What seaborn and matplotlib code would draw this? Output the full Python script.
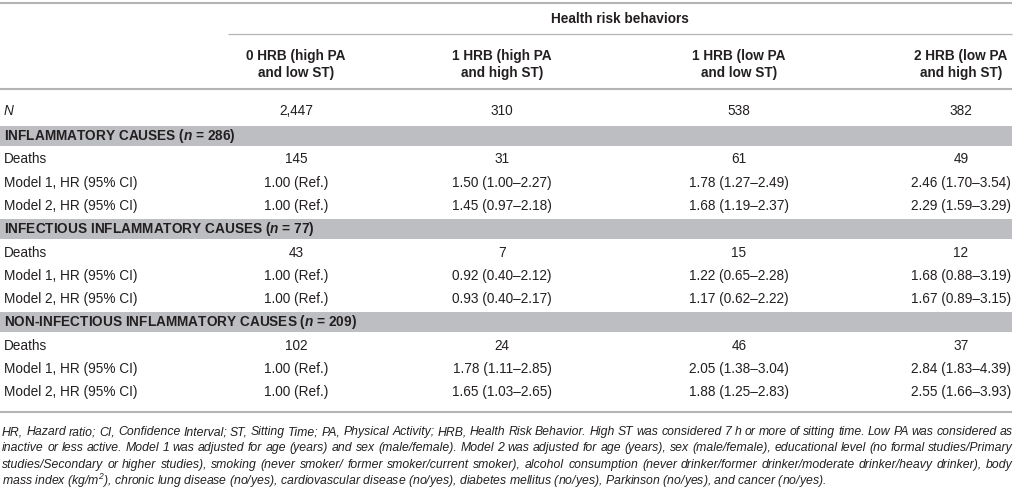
import matplotlib
matplotlib.use("Agg")
import matplotlib.pyplot as plt
import seaborn as sns

# ---------------- data ----------------
group_title = "Health risk behaviors"
columns = [
    "0 HRB (high PA\nand low ST)",
    "1 HRB (high PA\nand high ST)",
    "1 HRB (low PA\nand low ST)",
    "2 HRB (low PA\nand high ST)",
]
n_total = ["2,447", "310", "538", "382"]

sections = ["INFLAMMATORY CAUSES", "INFECTIOUS INFLAMMATORY CAUSES",
            "NON-INFECTIOUS INFLAMMATORY CAUSES"]
section_n = [286, 77, 209]

deaths = [[145, 31, 61, 49],
          [43, 7, 15, 12],
          [102, 24, 46, 37]]

# hazard ratios; first column is the reference group
m1_hr = [[1.00, 1.50, 1.78, 2.46], [1.00, 0.92, 1.22, 1.68], [1.00, 1.78, 2.05, 2.84]]
m1_lo = [[None, 1.00, 1.27, 1.70], [None, 0.40, 0.65, 0.88], [None, 1.11, 1.38, 1.83]]
m1_hi = [[None, 2.27, 2.49, 3.54], [None, 2.12, 2.28, 3.19], [None, 2.85, 3.04, 4.39]]

m2_hr = [[1.00, 1.45, 1.68, 2.29], [1.00, 0.93, 1.17, 1.67], [1.00, 1.65, 1.88, 2.55]]
m2_lo = [[None, 0.97, 1.19, 1.59], [None, 0.40, 0.62, 0.89], [None, 1.03, 1.25, 1.66]]
m2_hi = [[None, 2.18, 2.37, 3.29], [None, 2.17, 2.22, 3.15], [None, 2.65, 2.83, 3.93]]

footnote = [
    "HR, Hazard ratio; CI, Confidence Interval; ST, Sitting Time; PA, Physical Activity; HRB, Health Risk Behavior. High ST was considered 7 h or more of sitting time. Low PA was considered as",
    "inactive or less active. Model 1 was adjusted for age (years) and sex (male/female). Model 2 was adjusted for age (years), sex (male/female), educational level (no formal studies/Primary",
    "studies/Secondary or higher studies), smoking (never smoker/ former smoker/current smoker), alcohol consumption (never drinker/former drinker/moderate drinker/heavy drinker), body",
    "mass index (kg/m$^2$), chronic lung disease (no/yes), cardiovascular disease (no/yes), diabetes mellitus (no/yes), Parkinson (no/yes), and cancer (no/yes).",
]

# ---------------- style ----------------
sns.set_theme(style="white")
plt.rcParams["font.family"] = ["Liberation Sans", "DejaVu Sans"]
plt.rcParams["mathtext.fontset"] = "custom"
plt.rcParams["mathtext.rm"] = "Liberation Sans:italic"
plt.rcParams["mathtext.it"] = "Liberation Sans:italic"
plt.rcParams["mathtext.bfit"] = "Liberation Sans:italic:bold"

TXT = "#231f20"
RULE = "#b4b4b4"
BAND = "#bdbec1"
FS = 9.8
FS_NOTE = 8.8

col_x = [296, 502, 739, 961]
label_x = 4
right = 1012
pitch = 23.3


def fmt_hr(hr, lo, hi):
    if lo is None:
        return f"{hr:.2f} (Ref.)"
    return f"{hr:.2f} ({lo:.2f}\u2013{hi:.2f})"


fig = plt.figure(figsize=(10.16, 4.9), dpi=100)
ax = fig.add_axes([0, 0, 1, 1])
ax.set_xlim(0, 1016)
ax.set_ylim(490, 0)
ax.axis("off")

# rules
ax.plot([0, right], [3, 3], color=RULE, lw=1.5, solid_capstyle="butt")
ax.plot([228, right], [34, 34], color=RULE, lw=0.9, solid_capstyle="butt")
ax.plot([0, right], [89, 89], color=RULE, lw=1.5, solid_capstyle="butt")

ax.text((228 + right) / 2, 19, group_title, ha="center", va="center",
        fontsize=FS, fontweight="bold", color=TXT)
for x, c in zip(col_x, columns):
    ax.text(x, 64.5, c, ha="center", va="center", fontsize=FS,
            fontweight="bold", color=TXT, linespacing=1.35)

# N row
y = 111
ax.text(label_x, y, "N", ha="left", va="center", fontsize=FS,
        style="italic", color=TXT)
for x, v in zip(col_x, n_total):
    ax.text(x, y, v, ha="center", va="center", fontsize=FS, color=TXT)

y = 136
for s in range(len(sections)):
    ax.fill_between([0, right], y - 10, y + 10, color=BAND, lw=0)
    ax.text(label_x, y, sections[s] + r" ($\mathbfit{n}$ = " + f"{section_n[s]})",
            ha="left", va="center", fontsize=FS, fontweight="bold", color=TXT)
    rows = [
        ("Deaths", [str(d) for d in deaths[s]]),
        ("Model 1, HR (95% CI)", [fmt_hr(*t) for t in zip(m1_hr[s], m1_lo[s], m1_hi[s])]),
        ("Model 2, HR (95% CI)", [fmt_hr(*t) for t in zip(m2_hr[s], m2_lo[s], m2_hi[s])]),
    ]
    for label, vals in rows:
        y += pitch
        ax.text(label_x, y, label, ha="left", va="center", fontsize=FS, color=TXT)
        for x, v in zip(col_x, vals):
            ax.text(x, y, v, ha="center", va="center", fontsize=FS, color=TXT)
    y += pitch

ax.plot([0, right], [412, 412], color=RULE, lw=1.5, solid_capstyle="butt")

# footnote, justified like the journal layout (last line left aligned)
renderer = fig.canvas.get_renderer()
note_left, note_right = 2, 1013
for i, line in enumerate(footnote):
    ly = 432 + i * 16.3
    if i == len(footnote) - 1:
        ax.text(note_left, ly, line, ha="left", va="center", fontsize=FS_NOTE,
                style="italic", color=TXT)
        continue
    words = line.split(" ")
    arts = [ax.text(0, ly, w, ha="left", va="center", fontsize=FS_NOTE,
                    style="italic", color=TXT) for w in words]
    widths = [a.get_window_extent(renderer).width for a in arts]
    gap = (note_right - note_left - sum(widths)) / (len(words) - 1)
    x = note_left
    for a, w in zip(arts, widths):
        a.set_x(x)
        x += w + gap

fig.savefig("out.png", dpi=100)
